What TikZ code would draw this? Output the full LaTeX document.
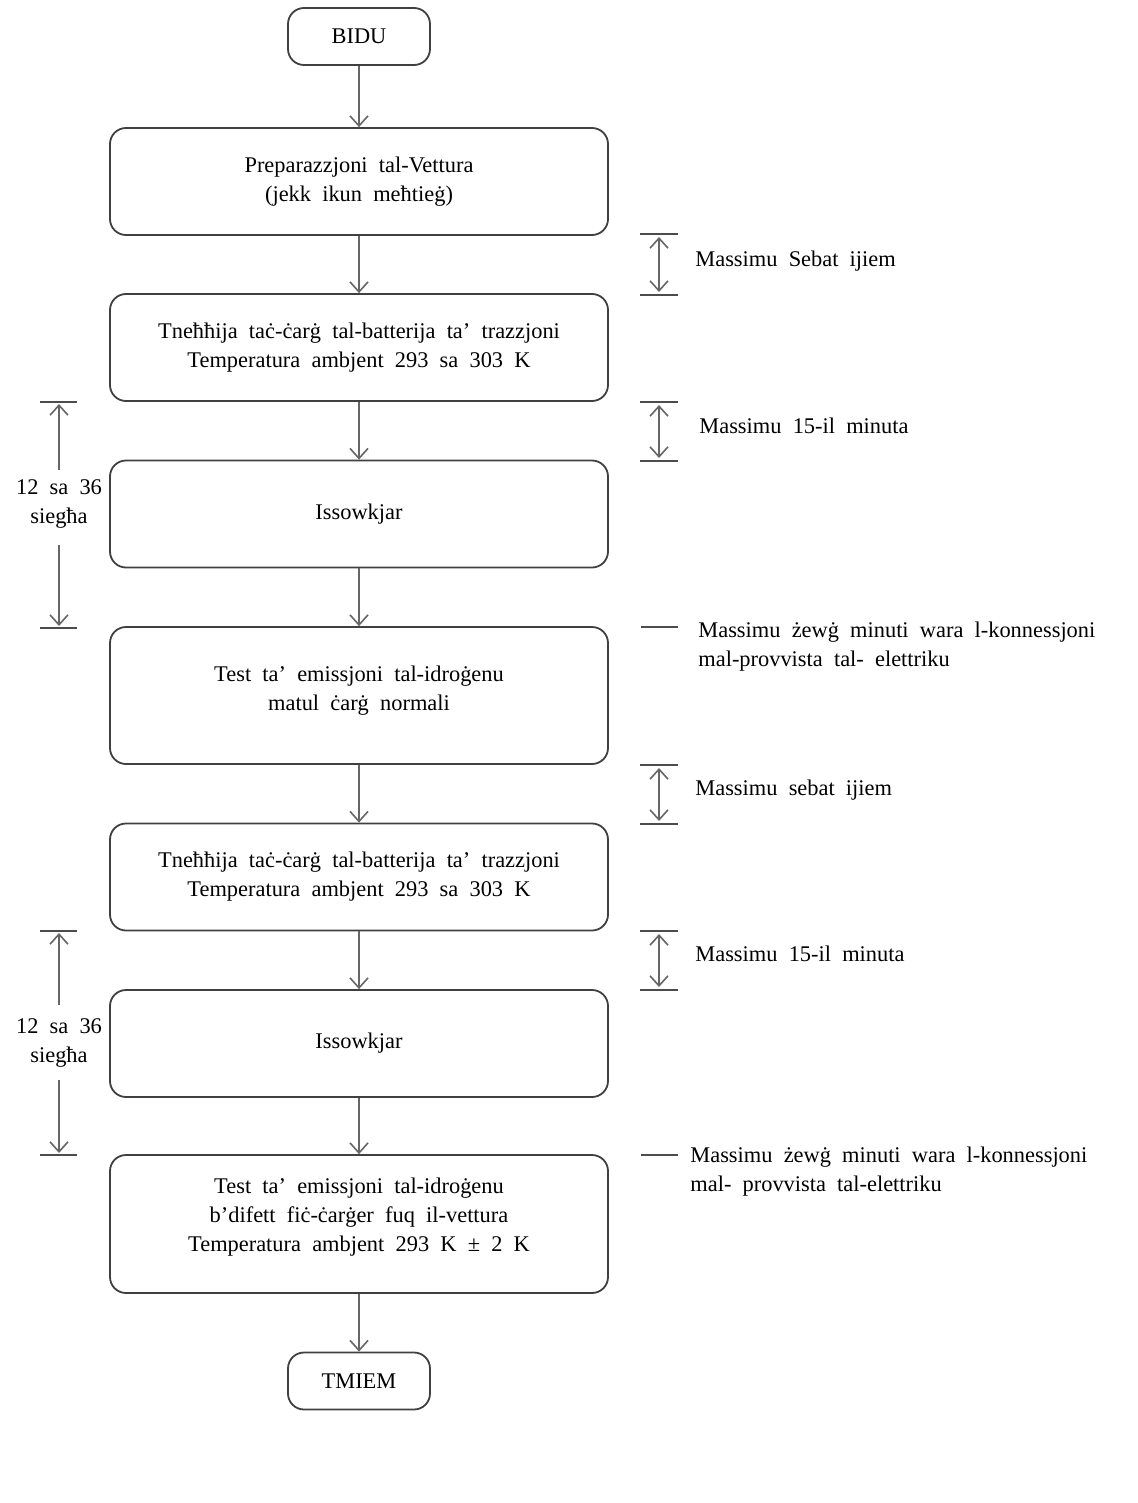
\documentclass[tikz,border=0pt]{standalone}
\usepackage{fontspec}
\setmainfont[WordSpace=2]{Liberation Serif}
\usetikzlibrary{arrows.meta}
\begin{document}
\begin{tikzpicture}[x=0.5pt,y=-0.5pt,
  txt/.style={font=\fontsize{11.2}{14.5}\selectfont},
  box/.style={draw=black!75, line width=0.9pt, rounded corners=8pt, align=center, inner sep=0pt, txt},
  bigbox/.style={box, minimum width=249pt, minimum height=53.5pt},
  termbox/.style={box, minimum width=71pt, minimum height=28.5pt},
  conn/.style={draw=black!60, line width=0.8pt, -{Straight Barb[length=5pt,width=9pt]}},
  dbl/.style={draw=black!60, line width=0.8pt, {Straight Barb[length=5pt,width=9pt]}-{Straight Barb[length=5pt,width=9pt]}},
  sarr/.style={draw=black!60, line width=0.8pt, -{Straight Barb[length=5pt,width=9pt]}},
  tick/.style={draw=black!70, line width=0.9pt},
  lab/.style={txt, align=left, anchor=west, inner sep=0pt},
  clab/.style={txt, align=center, inner sep=0pt}]
\useasboundingbox[fill=white] (0,0) rectangle (1138,1503);

\node[termbox] (bidu) at (359,36.5) {BIDU};
\node[bigbox] (b1) at (359,181.5) {Preparazzjoni tal-Vettura\\(jekk ikun meħtieġ)};
\node[bigbox] (b2) at (359,347.5) {Tneħħija taċ-ċarġ tal-batterija ta’ trazzjoni\\Temperatura ambjent 293 sa 303 K};
\node[bigbox] (b3) at (359,514) {Issowkjar};
\node[bigbox, minimum height=68.5pt] (b4) at (359,695.5) {};
\node[clab] (b4t) at (359,690.5) {Test ta’ emissjoni tal-idroġenu\\matul ċarġ normali};
\node[bigbox] (b5) at (359,877) {Tneħħija taċ-ċarġ tal-batterija ta’ trazzjoni\\Temperatura ambjent 293 sa 303 K};
\node[bigbox] (b6) at (359,1043.5) {Issowkjar};
\node[bigbox, minimum height=69pt] (b7) at (359,1224) {};
\node[clab] (b7t) at (359,1217) {Test ta’ emissjoni tal-idroġenu\\b’difett fiċ-ċarġer fuq il-vettura\\Temperatura ambjent 293 K ± 2 K};
\node[termbox] (tmiem) at (359,1381) {TMIEM};

\draw[conn] (bidu) -- (b1);
\draw[conn] (b1) -- (b2);
\draw[conn] (b2) -- (b3);
\draw[conn] (b3) -- (b4);
\draw[conn] (b4) -- (b5);
\draw[conn] (b5) -- (b6);
\draw[conn] (b6) -- (b7);
\draw[conn] (b7) -- (tmiem);

% right brackets
\foreach \t/\b/\n in {234/295/r1, 402/461/r2, 765/824/r3, 931/990/r4}{
  \coordinate (\n t) at (659,\t);
  \coordinate (\n b) at (659,\b);
  \draw[tick] (640,\t) -- (678,\t);
  \draw[tick] (640,\b) -- (678,\b);
  \draw[dbl] ([yshift=-1.5pt]\n t) -- ([yshift=1.5pt]\n b);
}
\node[lab] (l1) at (695,261) {Massimu Sebat ijiem};
\node[lab] (l2) at (699,426) {Massimu 15-il minuta};
\node[lab] (l3) at (695,790) {Massimu sebat ijiem};
\node[lab] (l4) at (695,954) {Massimu 15-il minuta};

\draw[tick] (641,627) -- (678,627);
\node[lab, anchor=north west] (l5) at (698,622) {Massimu żewġ minuti wara l-konnessjoni\\mal-provvista tal- elettriku};
\draw[tick] (641,1155) -- (678,1155);
\node[lab, anchor=north west] (l6) at (690,1147) {Massimu żewġ minuti wara l-konnessjoni\\mal- provvista tal-elettriku};

% left brackets
\foreach \t/\b/\n in {402/628/s1, 931/1155/s2}{
  \draw[tick] (40,\t) -- (77,\t);
  \draw[tick] (40,\b) -- (77,\b);
}
\node[clab] (s1) at (59,503.5) {12 sa 36\\siegħa};
\node[clab] (s2) at (59,1043) {12 sa 36\\siegħa};
\coordinate (s1t) at (59,404);
\coordinate (s1b) at (59,626);
\coordinate (s2t) at (59,933);
\coordinate (s2b) at (59,1153);
\draw[sarr] (59,470) -- (s1t);
\draw[sarr] (59,545) -- (s1b);
\draw[sarr] (59,1005) -- (s2t);
\draw[sarr] (59,1080) -- (s2b);
\end{tikzpicture}
\end{document}
